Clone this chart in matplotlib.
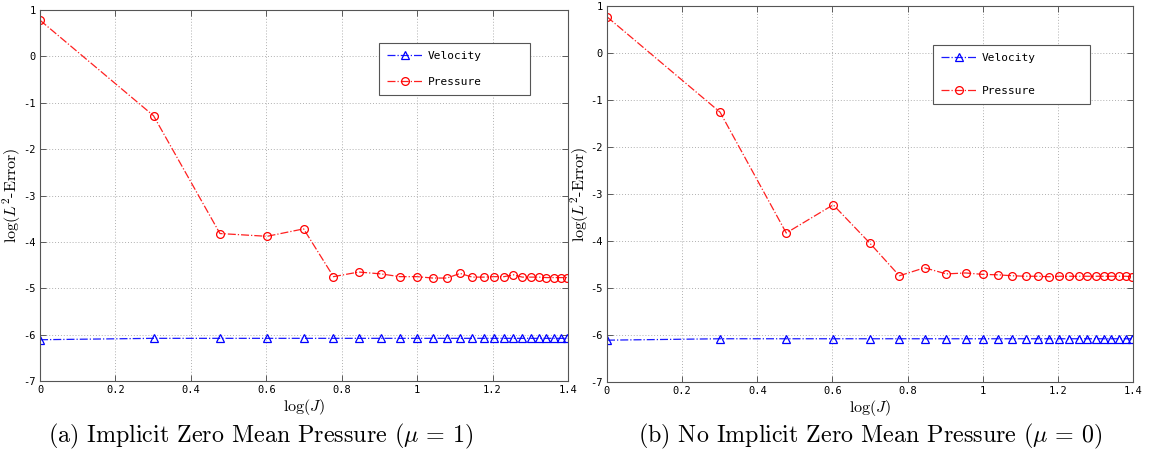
import numpy as np
import matplotlib
matplotlib.use("Agg")
import matplotlib.pyplot as plt

plt.rcParams['axes.unicode_minus'] = False
plt.rcParams['mathtext.fontset'] = 'cm'

# Data: x = log10(J), J = 1..25
J = list(range(1, 26))
logJ = np.log10(J)

vel_a = [-6.11, -6.08, -6.08, -6.08, -6.08, -6.08, -6.08, -6.08, -6.08, -6.08,
         -6.08, -6.08, -6.08, -6.08, -6.08, -6.08, -6.08, -6.08, -6.08, -6.08,
         -6.08, -6.08, -6.08, -6.08, -6.08]
pres_a = [0.78, -1.28, -3.82, -3.88, -3.72, -4.75, -4.65, -4.69, -4.75, -4.75,
          -4.78, -4.78, -4.68, -4.76, -4.76, -4.75, -4.75, -4.71, -4.76, -4.76,
          -4.76, -4.77, -4.77, -4.77, -4.77]

vel_b = [-6.11, -6.08, -6.08, -6.08, -6.08, -6.08, -6.08, -6.08, -6.08, -6.08,
         -6.08, -6.08, -6.08, -6.08, -6.08, -6.08, -6.08, -6.08, -6.08, -6.08,
         -6.08, -6.08, -6.08, -6.08, -6.08]
pres_b = [0.77, -1.26, -3.83, -3.23, -4.04, -4.74, -4.57, -4.70, -4.68, -4.71,
          -4.72, -4.74, -4.75, -4.75, -4.76, -4.75, -4.75, -4.75, -4.75, -4.75,
          -4.75, -4.75, -4.75, -4.75, -4.76]

xticks = [0, 0.2, 0.4, 0.6, 0.8, 1, 1.2, 1.4]
xticklabels = ['0', '0.2', '0.4', '0.6', '0.8', '1', '1.2', '1.4']
yticks = [-7, -6, -5, -4, -3, -2, -1, 0, 1]
yticklabels = ['-7', '-6', '-5', '-4', '-3', '-2', '-1', '0', '1']

captions = [r'(a) Implicit Zero Mean Pressure ($\mu\,=\,1$)',
            r'(b) No Implicit Zero Mean Pressure ($\mu\,=\,0$)']

W, H = 1168, 457
fig = plt.figure(figsize=(W / 100, H / 100), dpi=100)

def px_axes(l, r, t, b):
    return fig.add_axes([l / W, 1 - b / H, (r - l) / W, (b - t) / H])

axes = [px_axes(40, 568, 10, 381), px_axes(607, 1133, 6, 382)]
# legend boxes in pixels: left, right, top, bottom
leg_px = [(379, 530, 43, 96), (933, 1090, 45, 106)]
leg_spacing = [1.45, 2.1]
ylab_x = [-0.032, -0.030]
data = [(vel_a, pres_a), (vel_b, pres_b)]
ax_px = [(40, 568, 10, 381), (607, 1133, 6, 382)]

mono = 'DejaVu Sans Mono'
serif = 'cmr10'
for i, ax in enumerate(axes):
    vel, pres = data[i]
    ax.plot(logJ, vel, linestyle='-.', color='#1a1aff', lw=0.9, marker='^',
            markersize=5.2, markerfacecolor='none', markeredgecolor='#0000ff',
            markeredgewidth=0.9, label='Velocity')
    ax.plot(logJ, pres, linestyle='-.', color='#ff2020', lw=0.9, marker='o',
            markersize=5.6, markerfacecolor='none', markeredgecolor='#ff0000',
            markeredgewidth=0.9, label='Pressure')
    ax.set_xlim(0, 1.4)
    ax.set_ylim(-7, 1)
    ax.set_xticks(xticks)
    ax.set_xticklabels(xticklabels, fontfamily=mono, fontsize=7.5)
    ax.set_yticks(yticks)
    ax.set_yticklabels(yticklabels, fontfamily=mono, fontsize=7.5)
    ax.tick_params(direction='in', top=True, right=True, length=4,
                   width=0.6, color='#444444', pad=3)
    ax.grid(True, linestyle=(0, (1, 2)), color='#b0b0b0', lw=0.7)
    for s in ax.spines.values():
        s.set_color('#555555')
        s.set_linewidth(0.8)
    ax.set_xlabel(r'log($J$)', fontsize=11.5, fontfamily=serif, labelpad=1)
    ax.set_ylabel(r'log($L^2$-Error)', fontsize=11.5, fontfamily=serif)
    ax.yaxis.set_label_coords(ylab_x[i], 0.5)
    l, r, t, b = ax_px[i]
    ll, lr, lt, lb = leg_px[i]
    bx0 = (ll - l) / (r - l)
    bw = (lr - ll) / (r - l)
    by1 = 1 - (lt - t) / (b - t)
    bh = (lb - lt) / (b - t)
    leg = ax.legend(loc='upper left', bbox_to_anchor=(bx0, by1 - bh, bw, bh),
                    mode='expand', borderaxespad=0,
                    prop={'family': mono, 'size': 8}, fancybox=False,
                    edgecolor='#555555', framealpha=1, handlelength=3.3,
                    labelspacing=leg_spacing[i], borderpad=0.7,
                    handletextpad=0.4)
    leg.get_frame().set_linewidth(0.8)

fig.text(261 / W, 1 - 436 / H, captions[0], ha='center', va='center',
         fontsize=17.3, fontfamily=serif, math_fontfamily='cm')
fig.text(870 / W, 1 - 436 / H, captions[1], ha='center', va='center',
         fontsize=17.3, fontfamily=serif, math_fontfamily='cm')

fig.savefig('out.png', dpi=100)
